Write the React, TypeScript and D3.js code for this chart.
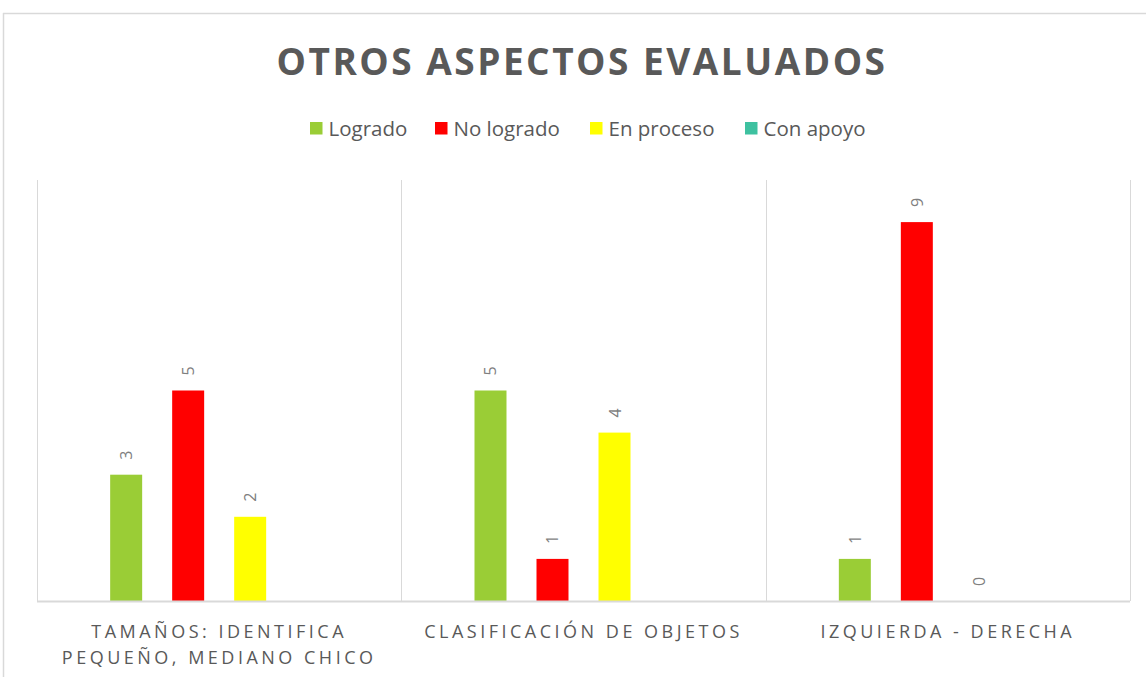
import React from 'react';
import * as d3 from 'd3';

// chart data
const categories = [
  ['TAMAÑOS: IDENTIFICA', 'PEQUEÑO, MEDIANO CHICO'],
  ['CLASIFICACIÓN DE OBJETOS'],
  ['IZQUIERDA - DERECHA'],
];
const seriesNames = ['Logrado', 'No logrado', 'En proceso', 'Con apoyo'];
const seriesColors = ['#9acd36', '#ff0000', '#ffff00', '#3ec1a0'];
const logrado = [3, 5, 1];
const noLogrado = [5, 1, 9];
const enProceso = [2, 4, 0];
const conApoyo: (number | null)[] = [null, null, null];

const W = 1146;
const H = 677;
const FONT = '"Open Sans", sans-serif';
const GREY = '#595959';
const LINE = '#d9d9d9';

export default function App() {
  const margin = { top: 180, right: 16, bottom: 76, left: 37 };
  const plotW = W - margin.left - margin.right;
  const plotH = H - margin.top - margin.bottom;

  const values = [logrado, noLogrado, enProceso, conApoyo];

  const x0 = d3.scaleBand<number>()
    .domain(categories.map((_, i) => i))
    .range([0, plotW])
    .paddingInner(0)
    .paddingOuter(0);

  const x1 = d3.scaleBand<number>()
    .domain(seriesNames.map((_, i) => i))
    .range([0, x0.bandwidth()])
    .paddingInner(0.484)
    .paddingOuter(1.18);

  const y = d3.scaleLinear().domain([0, 10]).range([plotH, 0]);

  // legend swatch positions
  const legendX = [310, 435, 590, 745];

  return (
    <svg
      width={W}
      height={H}
      style={{ position: 'absolute', left: 0, top: 0, display: 'block', background: '#fff' }}
    >
      {/* chart frame (cropped) */}
      <line x1={3} x2={W} y1={13.5} y2={13.5} stroke={LINE} strokeWidth={1.5} />
      <line x1={3.5} x2={3.5} y1={13} y2={H} stroke={LINE} strokeWidth={1.5} />

      <text
        x={582}
        y={75}
        textAnchor="middle"
        fontFamily={FONT}
        fontWeight={700}
        fontSize={37}
        letterSpacing={2.5}
        fill={GREY}
      >
        OTROS ASPECTOS EVALUADOS
      </text>

      {/* legend */}
      <g fontFamily={FONT} fontSize={20.5} fill={GREY}>
        {seriesNames.map((name, i) => (
          <g key={name} transform={`translate(${legendX[i]},0)`}>
            <rect x={0} y={122} width={12.5} height={12.5} fill={seriesColors[i]} />
            <text x={18.5} y={135.5}>{name}</text>
          </g>
        ))}
      </g>

      <g transform={`translate(${margin.left},${margin.top})`}>
        {/* category separators */}
        {d3.range(categories.length + 1).map((i) => {
          const xx = Math.round(i * x0.step()) + 0.5;
          return (
            <line key={i} x1={xx} x2={xx} y1={0} y2={plotH} stroke={LINE} strokeWidth={1} />
          );
        })}

        {/* bars */}
        {categories.map((_, ci) => (
          <g key={ci} transform={`translate(${x0(ci)},0)`}>
            {values.map((vals, si) => {
              const v = vals[ci];
              if (v === null) return null;
              const bx = x1(si)!;
              const top = y(v);
              const cx = bx + x1.bandwidth() / 2;
              return (
                <g key={si}>
                  {v > 0 && (
                    <rect
                      x={bx}
                      y={top}
                      width={x1.bandwidth()}
                      height={plotH - top}
                      fill={seriesColors[si]}
                    />
                  )}
                  <text
                    transform={`translate(${cx},${top - 15}) rotate(-90)`}
                    textAnchor="start"
                    dominantBaseline="central"
                    fontFamily={FONT}
                    fontSize={16}
                    fill="#7f7f7f"
                  >
                    {v}
                  </text>
                </g>
              );
            })}
          </g>
        ))}

        {/* baseline */}
        <line x1={0} x2={plotW} y1={y(0) + 0.5} y2={y(0) + 0.5} stroke={LINE} strokeWidth={2} />

        {/* category labels */}
        {categories.map((lines, ci) => (
          <text
            key={ci}
            x={x0(ci)! + x0.bandwidth() / 2}
            y={plotH + 37}
            textAnchor="middle"
            fontFamily={FONT}
            fontSize={18}
            letterSpacing={3.5}
            fill={GREY}
          >
            {lines.map((ln, li) => (
              <tspan key={li} x={x0(ci)! + x0.bandwidth() / 2} dy={li === 0 ? 0 : 26}>
                {ln}
              </tspan>
            ))}
          </text>
        ))}
      </g>
    </svg>
  );
}
